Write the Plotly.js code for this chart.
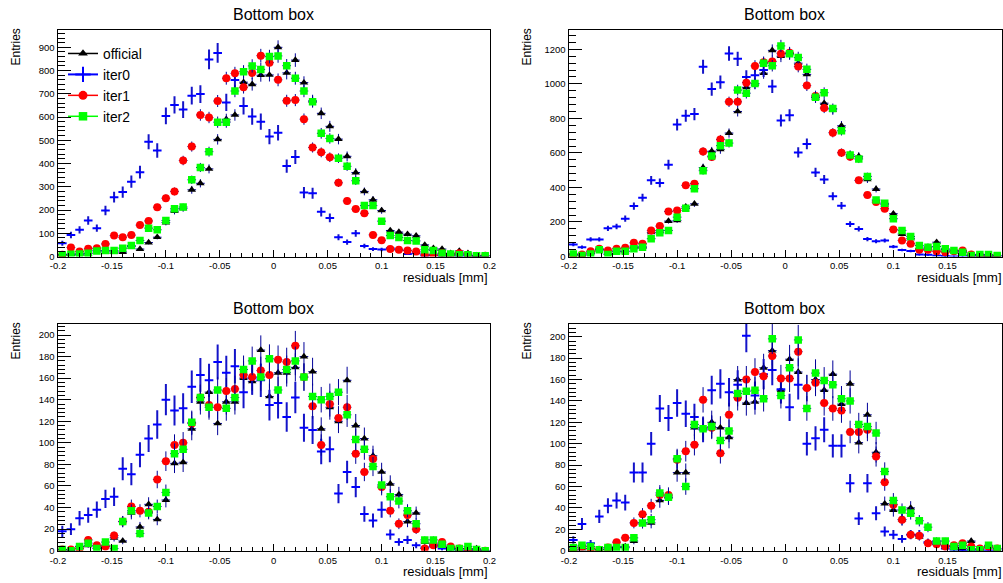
<!DOCTYPE html>
<html><head><meta charset="utf-8">
<script src="https://cdn.plot.ly/plotly-3.0.1.min.js"></script>
<style>html,body{margin:0;padding:0;background:#fff;}#plot{width:1003px;height:583px;}</style>
</head><body><div id="plot"></div>
<script>
// ---------------- data ----------------
const nBins = 50, xMin = -0.2, xMax = 0.2;
const seriesNames = ['official', 'iter0', 'iter1', 'iter2'];
const panelTitle = 'Bottom box';
const xTitle = 'residuals [mm]';
const yTitle = 'Entries';
const xTickVals = [-0.2, -0.15, -0.1, -0.05, 0, 0.05, 0.1, 0.15, 0.2];
const xTickText = ['-0.2', '-0.15', '-0.1', '-0.05', '0', '0.05', '0.1', '0.15', '0.2'];

// top-left panel
const tlOfficial = [5,10,10,12,25,20,20,19,43,32,60,83,146,195,207,287,315,377,504,590,609,750,741,780,781,900,790,845,748,670,616,560,505,431,361,280,244,198,112,105,96,89,50,36,32,14,24,14,4,4];
const tlIter0 = [57,93,115,155,122,198,255,277,322,363,494,456,605,652,632,692,699,848,876,663,759,648,602,580,516,532,389,428,275,272,192,166,83,62,100,45,32,30,36,29,11,14,3,7,0,3,0,0,0,0];
const tlIter1 = [8,39,21,33,36,54,90,83,92,135,153,212,251,280,413,473,609,598,669,767,788,728,790,864,834,760,670,673,591,469,448,427,317,239,204,186,93,70,32,29,26,21,7,4,14,7,14,7,0,3];
const tlIter2 = [8,10,11,14,24,26,26,36,47,69,122,115,155,205,213,330,383,451,578,578,712,795,820,805,860,863,821,767,712,666,530,508,423,388,326,219,219,152,90,82,69,67,29,26,14,11,7,7,3,3];

// top-right panel
const trOfficial = [10,8,25,40,20,30,30,60,55,140,150,205,209,288,305,515,610,620,715,840,980,1000,1062,1194,1160,1176,1120,1055,920,888,850,757,590,580,447,391,300,248,130,105,45,55,83,40,30,30,12,10,8,5];
const trIter0 = [70,54,99,99,163,174,219,292,341,441,426,532,764,815,825,1099,970,1010,1176,1145,1040,1050,1080,985,788,818,603,652,487,446,349,294,188,160,101,88,93,57,38,32,12,10,6,3,0,4,0,0,0,0];
const trIter1 = [10,12,31,45,35,45,50,79,74,151,176,261,267,412,422,608,577,678,896,896,1007,1104,1125,1130,1175,1180,1100,990,930,860,717,601,578,441,356,315,277,156,93,74,39,39,31,25,31,35,12,6,0,3];
const trIter2 = [15,6,15,39,12,31,31,45,54,103,137,151,228,279,393,497,582,642,657,964,946,1002,1120,1105,1220,1174,1152,1084,922,949,857,728,588,565,464,327,308,219,151,116,64,54,58,45,35,25,6,12,12,6];

// bottom-left panel
const blOfficial = [1,0,4,5,4,5,12,9,35,22,43,29,47,81,82,113,138,147,118,138,138,160,157,186,143,165,165,170,180,166,113,133,120,158,116,104,88,73,62,52,27,35,8,7,5,3,2,2,2,0];
const blIter0 = [18,20,30,33,38,48,50,76,71,89,104,117,140,130,132,152,163,158,175,165,171,147,160,158,135,137,124,142,114,112,92,94,53,73,59,34,28,38,15,8,10,5,3,4,2,1,0,0,0,0];
const blIter1 = [1,1,2,10,5,4,14,27,41,37,36,66,83,98,100,118,142,135,133,148,150,163,161,167,163,177,175,190,161,134,98,136,123,133,90,73,85,59,37,25,33,20,2,5,8,4,2,1,0,0];
const blIter2 = [1,0,4,7,2,8,2,27,37,16,35,41,54,90,94,119,142,133,149,132,142,168,176,161,178,149,168,176,161,143,140,143,147,126,103,94,78,61,50,46,37,25,10,10,6,2,2,4,1,0];

// bottom-right panel
const brOfficial = [0,2,2,1,2,4,4,9,26,26,47,50,73,73,115,115,120,115,106,160,138,139,171,187,150,179,167,152,160,150,165,137,156,101,127,92,44,38,29,40,13,8,9,5,4,2,9,2,3,1];
const brIter0 = [10,25,7,32,42,47,45,73,73,100,133,124,138,128,125,113,150,156,148,155,201,145,165,169,151,134,155,100,105,113,98,98,63,30,63,35,18,15,11,15,15,8,6,2,1,0,0,0,0,0];
const brIter1 = [1,4,2,1,3,8,12,26,34,42,52,52,85,93,99,141,115,91,127,143,160,167,163,182,161,161,186,152,157,138,133,131,111,111,113,88,64,43,29,15,14,7,6,4,5,7,4,2,4,2];
const brIter2 = [3,5,4,1,3,3,3,12,26,29,54,50,86,60,118,114,116,103,112,147,149,150,142,198,145,171,197,133,166,159,155,142,140,118,116,110,74,47,38,35,28,22,9,9,4,5,1,1,5,2];

// iter0 histograms carry scaled (weighted) errors: error = sqrt(scale * content)
const iter0ErrScale = [2.1, 1.5, 1.5, 1.2];

// ---------------- drawing ----------------
const W = 1003, H = 583;
const FONT = 'Liberation Sans, Arial, Helvetica, sans-serif';
const px = v => v / W;
const py = v => 1 - v / H;

const binWidth = (xMax - xMin) / nBins;
const centers = [];
for (let i = 0; i < nBins; i++) centers.push(xMin + (i + 0.5) * binWidth);

const colL = [58, 489.5], colR = [569, 1001.5];
const rowT = [30, 256.5], rowB = [324, 550.7];

const panels = [
  {data: [tlOfficial, tlIter0, tlIter1, tlIter2], ymax: 974.5, dtick: 100, minor: 20, col: colL, row: rowT},
  {data: [trOfficial, trIter0, trIter1, trIter2], ymax: 1312, dtick: 200, minor: 40, col: colR, row: rowT},
  {data: [blOfficial, blIter0, blIter1, blIter2], ymax: 210.2, dtick: 20, minor: 4, col: colL, row: rowB},
  {data: [brOfficial, brIter0, brIter1, brIter2], ymax: 211.9, dtick: 20, minor: 4, col: colR, row: rowB}
];

const styles = [
  {symbol: 'triangle-up', color: '#000000', size: 7.5, errColor: '#000099', errYColor: '#000099', thick: 1},
  {symbol: 'circle', color: '#0000ff', size: 2, errColor: '#0000ff', errYColor: '#1414c8', thick: 2},
  {symbol: 'circle', color: '#ff0000', size: 8, errColor: '#000099', errYColor: '#000099', thick: 1},
  {symbol: 'square', color: '#00ff00', size: 7.5, errColor: '#000099', errYColor: '#000099', thick: 1}
];

const traces = [];
const layout = {
  width: W, height: H,
  margin: {l: 0, r: 0, t: 0, b: 0},
  paper_bgcolor: '#ffffff', plot_bgcolor: '#ffffff',
  font: {family: FONT, size: 9.5, color: '#000000'},
  showlegend: true,
  legend: {
    x: px(63), y: py(38), xanchor: 'left', yanchor: 'top',
    bgcolor: 'rgba(0,0,0,0)', borderwidth: 0,
    font: {family: FONT, size: 13.8, color: '#000000'},
    tracegroupgap: 0
  },
  annotations: []
};

panels.forEach((p, k) => {
  const sfx = k === 0 ? '' : String(k + 1);
  const xa = 'xaxis' + sfx, ya = 'yaxis' + sfx;
  layout[xa] = {
    domain: [px(p.col[0]), px(p.col[1])], anchor: 'y' + sfx,
    range: [xMin, xMax], tickmode: 'array', tickvals: xTickVals, ticktext: xTickText,
    ticks: 'inside', ticklen: 7, tickwidth: 1, tickcolor: '#000',
    showline: true, mirror: true, linecolor: '#000', linewidth: 1.5,
    showgrid: false, zeroline: false, fixedrange: true,
    tickfont: {family: FONT, size: 9.5, color: '#000'},
    minor: {tickmode: 'linear', tick0: 0, dtick: 0.01, ticks: 'inside', ticklen: 3.5, tickwidth: 1, tickcolor: '#000', showgrid: false}
  };
  layout[ya] = {
    domain: [py(p.row[1]), py(p.row[0])], anchor: 'x' + sfx,
    range: [0, p.ymax], tickmode: 'linear', tick0: 0, dtick: p.dtick,
    ticks: 'inside', ticklen: 13, tickwidth: 1, tickcolor: '#000',
    showline: true, mirror: true, linecolor: '#000', linewidth: 1.5,
    showgrid: false, zeroline: false, fixedrange: true,
    tickfont: {family: FONT, size: 9.5, color: '#000'},
    minor: {tick0: 0, dtick: p.minor, ticks: 'inside', ticklen: 7, tickwidth: 1, tickcolor: '#000', showgrid: false}
  };

  p.data.forEach((vals, s) => {
    const st = styles[s];
    const errs = vals.map(v => Math.sqrt((s === 1 ? iter0ErrScale[k] : 1) * v));
    traces.push({
      type: 'scatter', mode: 'markers', x: centers, y: vals,
      xaxis: 'x' + sfx, yaxis: 'y' + sfx, showlegend: false, name: seriesNames[s],
      marker: {symbol: st.symbol, color: st.color, size: st.size, line: {width: 0}},
      error_x: {type: 'constant', value: binWidth / 2, color: st.errColor, thickness: st.thick, width: 0},
      error_y: {type: 'data', array: errs, color: st.errYColor, thickness: st.thick, width: 0},
      hoverinfo: 'skip'
    });
  });

  const cx = (p.col[0] + p.col[1]) / 2 - 0.5;
  layout.annotations.push({
    text: panelTitle, xref: 'paper', yref: 'paper', x: px(cx), y: py(p.row[0] - 15.5),
    xanchor: 'center', yanchor: 'middle', showarrow: false,
    font: {family: FONT, size: 16, color: '#000'}
  });
  layout.annotations.push({
    text: yTitle, xref: 'paper', yref: 'paper', x: px(p.col[0] - 42.5), y: py(p.row[0] + 17),
    xanchor: 'center', yanchor: 'middle', textangle: -90, showarrow: false,
    font: {family: FONT, size: 12, color: '#000'}
  });
  layout.annotations.push({
    text: xTitle, xref: 'paper', yref: 'paper', x: px(p.col[1] + (k % 2 ? 2 : 0)), y: py(p.row[1] + 21),
    xanchor: 'right', yanchor: 'middle', showarrow: false,
    font: {family: FONT, size: 13, color: '#000'}
  });
});

// legend entries (ROOT style: line through marker)
styles.forEach((st, s) => {
  const legMarker = s === 1
    ? {symbol: 'cross-thin', size: 11, color: st.color, line: {width: 2, color: st.color}}
    : {symbol: st.symbol, size: st.size + 1, color: st.color, line: {width: 0}};
  traces.push({
    type: 'scatter', mode: 'lines+markers', x: [null], y: [null],
    name: seriesNames[s], showlegend: true,
    line: {color: st.color, width: s === 1 ? 2 : 1.5},
    marker: legMarker, hoverinfo: 'skip'
  });
});

Plotly.newPlot('plot', traces, layout, {staticPlot: true, displayModeBar: false});
</script>
</body></html>
